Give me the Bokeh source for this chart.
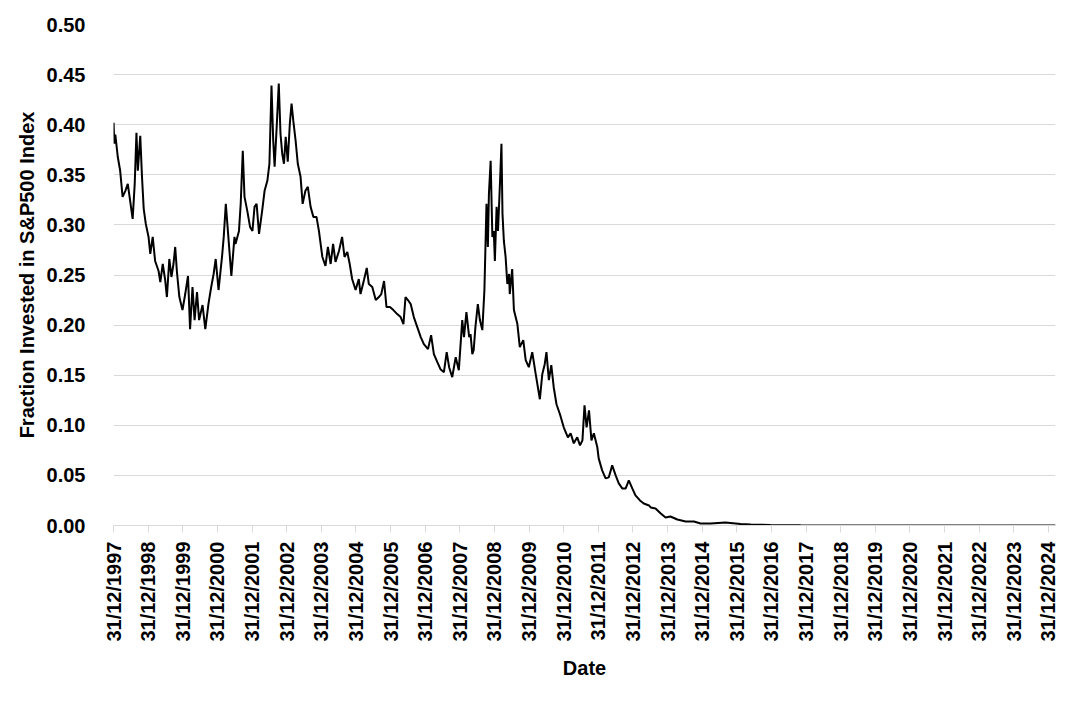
import math
import pandas as pd
from bokeh.plotting import figure
from bokeh.models import Range1d, FixedTicker, DatetimeTickFormatter, NumeralTickFormatter, ColumnDataSource
from bokeh.embed import file_html
from bokeh.resources import INLINE

# decimal years (1998.00 == 31/12/1997) and fraction invested
t_years = [
    1998.00, 1998.02, 1998.05, 1998.12, 1998.19, 1998.26, 1998.34, 1998.41, 1998.45, 1998.55,
    1998.61, 1998.66, 1998.70, 1998.77, 1998.82, 1998.87, 1998.93, 1999.01, 1999.06, 1999.13,
    1999.20, 1999.30, 1999.35, 1999.42, 1999.49, 1999.54, 1999.61, 1999.67, 1999.73, 1999.78,
    1999.83, 1999.90, 1999.99, 2000.07, 2000.15, 2000.21, 2000.28, 2000.34, 2000.41, 2000.47,
    2000.57, 2000.65, 2000.74, 2000.82, 2000.89, 2000.95, 2001.03, 2001.13, 2001.18, 2001.24,
    2001.30, 2001.40, 2001.49, 2001.52, 2001.62, 2001.67, 2001.73, 2001.78, 2001.86, 2001.94,
    2002.01, 2002.07, 2002.13, 2002.20, 2002.29, 2002.36, 2002.44, 2002.50, 2002.56, 2002.61,
    2002.65, 2002.71, 2002.77, 2002.82, 2002.87, 2002.92, 2002.97, 2003.03, 2003.09, 2003.14,
    2003.19, 2003.26, 2003.32, 2003.40, 2003.46, 2003.54, 2003.61, 2003.69, 2003.77, 2003.86,
    2003.93, 2004.03, 2004.12, 2004.19, 2004.27, 2004.34, 2004.41, 2004.51, 2004.60, 2004.67,
    2004.75, 2004.82, 2004.89, 2004.99, 2005.08, 2005.13, 2005.23, 2005.31, 2005.37, 2005.47,
    2005.57, 2005.66, 2005.73, 2005.81, 2005.88, 2005.98, 2006.08, 2006.19, 2006.29, 2006.37,
    2006.43, 2006.50, 2006.58, 2006.67, 2006.77, 2006.87, 2006.96, 2007.08, 2007.17, 2007.25,
    2007.35, 2007.44, 2007.54, 2007.62, 2007.69, 2007.78, 2007.88, 2007.97, 2008.07, 2008.12,
    2008.19, 2008.27, 2008.31, 2008.36, 2008.40, 2008.45, 2008.52, 2008.58, 2008.65, 2008.71,
    2008.77, 2008.81, 2008.84, 2008.89, 2008.94, 2008.98, 2009.01, 2009.06, 2009.10, 2009.16,
    2009.20, 2009.23, 2009.27, 2009.32, 2009.37, 2009.42, 2009.44, 2009.51, 2009.56, 2009.66,
    2009.73, 2009.83, 2009.90, 2009.99, 2010.09, 2010.19, 2010.31, 2010.38, 2010.45, 2010.50,
    2010.57, 2010.64, 2010.71, 2010.79, 2010.89, 2011.00, 2011.12, 2011.20, 2011.29, 2011.39,
    2011.47, 2011.54, 2011.60, 2011.66, 2011.73, 2011.80, 2011.87, 2011.97, 2012.01, 2012.11,
    2012.21, 2012.30, 2012.40, 2012.50, 2012.59, 2012.69, 2012.79, 2012.88, 2012.98, 2013.07,
    2013.20, 2013.31, 2013.46, 2013.51, 2013.65, 2013.80, 2013.94, 2014.08, 2014.28, 2014.52,
    2014.76, 2014.95, 2015.24, 2015.67, 2016.11, 2016.40, 2016.97, 2017.84, 2020.73, 2025.20,
]
fraction = [
    0.402, 0.381, 0.390, 0.368, 0.354, 0.328, 0.334, 0.341, 0.331, 0.306,
    0.341, 0.392, 0.354, 0.389, 0.348, 0.316, 0.301, 0.288, 0.271, 0.288,
    0.264, 0.254, 0.243, 0.261, 0.245, 0.228, 0.266, 0.248, 0.261, 0.278,
    0.253, 0.228, 0.215, 0.231, 0.249, 0.196, 0.238, 0.205, 0.233, 0.205,
    0.220, 0.196, 0.221, 0.238, 0.251, 0.266, 0.235, 0.268, 0.288, 0.321,
    0.294, 0.249, 0.288, 0.281, 0.294, 0.321, 0.374, 0.328, 0.314, 0.298,
    0.294, 0.318, 0.321, 0.291, 0.314, 0.334, 0.344, 0.361, 0.439, 0.384,
    0.358, 0.398, 0.441, 0.391, 0.371, 0.361, 0.388, 0.363, 0.401, 0.421,
    0.404, 0.383, 0.361, 0.348, 0.321, 0.334, 0.338, 0.318, 0.308, 0.308,
    0.294, 0.268, 0.259, 0.278, 0.261, 0.281, 0.263, 0.274, 0.288, 0.268,
    0.273, 0.261, 0.246, 0.235, 0.246, 0.231, 0.245, 0.257, 0.241, 0.238,
    0.225, 0.228, 0.231, 0.244, 0.218, 0.218, 0.215, 0.211, 0.208, 0.201,
    0.228, 0.225, 0.221, 0.208, 0.198, 0.188, 0.181, 0.176, 0.190, 0.171,
    0.163, 0.156, 0.153, 0.173, 0.158, 0.148, 0.168, 0.155, 0.205, 0.188,
    0.213, 0.188, 0.191, 0.171, 0.175, 0.198, 0.221, 0.205, 0.195, 0.235,
    0.321, 0.278, 0.331, 0.364, 0.288, 0.294, 0.264, 0.318, 0.294, 0.344,
    0.381, 0.311, 0.284, 0.268, 0.241, 0.251, 0.231, 0.256, 0.215, 0.201,
    0.178, 0.185, 0.165, 0.158, 0.173, 0.151, 0.126, 0.151, 0.161, 0.173,
    0.145, 0.160, 0.138, 0.121, 0.111, 0.098, 0.088, 0.092, 0.082, 0.088,
    0.080, 0.085, 0.120, 0.098, 0.115, 0.085, 0.092, 0.078, 0.067, 0.055,
    0.047, 0.048, 0.060, 0.050, 0.042, 0.037, 0.037, 0.045, 0.037, 0.030,
    0.025, 0.022, 0.020, 0.018, 0.017, 0.012, 0.008, 0.009, 0.006, 0.004,
    0.004, 0.002, 0.002, 0.003, 0.0015, 0.001, 0.0005, 0.0002, 0.0, 0.0,
]
tick_years = list(range(1997, 2025))
y_ticks = [0.00, 0.05, 0.10, 0.15, 0.20, 0.25, 0.30, 0.35, 0.40, 0.45, 0.50]
x_title = "Date"
y_title = "Fraction Invested in S&P500 Index"


def to_ts(y):
    yi = int(y)
    return pd.Timestamp(yi, 1, 1) + pd.Timedelta(days=(y - yi) * 365.25)


dates = [to_ts(y) for y in t_years]
epoch = pd.Timestamp(1970, 1, 1)
tick_ms = [(pd.Timestamp(y, 12, 31) - epoch) / pd.Timedelta(milliseconds=1) for y in tick_years]

src = ColumnDataSource(dict(date=dates, frac=fraction))

p = figure(
    width=1066, height=694, x_axis_type="datetime",
    output_backend="svg", toolbar_location=None,
    x_range=Range1d(pd.Timestamp(1997, 12, 31), to_ts(t_years[-1])),
    y_range=Range1d(0, 0.5),
    min_border_left=113, min_border_top=24, min_border_right=11, min_border_bottom=169,
)
p.line("date", "frac", source=src, line_color="black", line_width=2.0)

p.outline_line_color = None
p.xgrid.grid_line_color = None
p.ygrid.grid_line_color = "#d9d9d9"
p.ygrid.grid_line_width = 1

FONT = "Liberation Sans"
fmt = "%d/%m/%Y"
p.xaxis.ticker = FixedTicker(ticks=tick_ms)
p.xaxis.formatter = DatetimeTickFormatter(
    microseconds=fmt, milliseconds=fmt, seconds=fmt, minsec=fmt, minutes=fmt,
    hourmin=fmt, hours=fmt, days=fmt, months=fmt, years=fmt)
p.xaxis.major_label_orientation = math.pi / 2
p.xaxis.axis_line_color = "#d9d9d9"
p.xaxis.major_tick_line_color = "#d9d9d9"
p.xaxis.major_tick_in = 0
p.xaxis.major_tick_out = 7
p.xaxis.minor_tick_line_color = None
p.xaxis.major_label_standoff = 9
p.xaxis.axis_label = x_title
p.xaxis.axis_label_standoff = 12

p.yaxis.ticker = FixedTicker(ticks=y_ticks)
p.yaxis.formatter = NumeralTickFormatter(format="0.00")
p.yaxis.axis_line_color = None
p.yaxis.major_tick_line_color = None
p.yaxis.minor_tick_line_color = None
p.yaxis.major_label_standoff = 22
p.yaxis.axis_label = y_title
p.yaxis.axis_label_standoff = 6

for ax in (p.xaxis, p.yaxis):
    ax.major_label_text_font = FONT
    ax.major_label_text_font_style = "bold"
    ax.major_label_text_font_size = "20px"
    ax.major_label_text_color = "black"
    ax.axis_label_text_font = FONT
    ax.axis_label_text_font_style = "bold"
    ax.axis_label_text_font_size = "20px"
    ax.axis_label_text_color = "black"

open("out.html", "w").write(file_html(p, INLINE))
